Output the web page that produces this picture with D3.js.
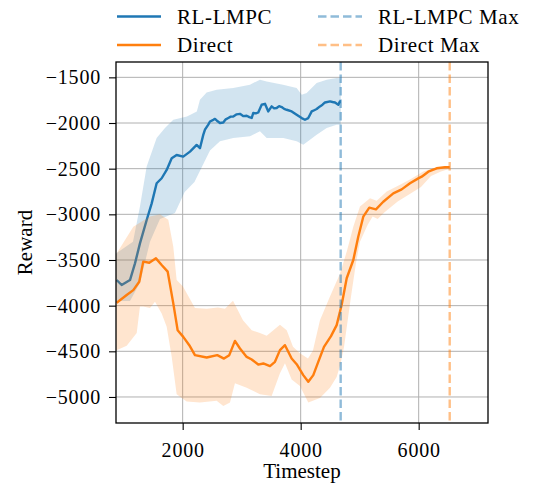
<!DOCTYPE html>
<html>
<head>
<meta charset="utf-8">
<style>
  body { margin: 0; background: #fff; }
  text { font-family: "Liberation Serif", "DejaVu Serif", serif; fill: #000; }
  .grid line { stroke: #b0b0b0; stroke-width: 1; }
</style>
</head>
<body>
<script src="https://d3js.org/d3.v7.min.js"></script>
<script>

// RL-LMPC mean reward
var lmpcT = [881, 966, 1107, 1192, 1276, 1390, 1475, 1559, 1644, 1729, 1814, 1898, 2010, 2124, 2237, 2293, 2349, 2378, 2434, 2463, 2519, 2547, 2581, 2632, 2688, 2730, 2773, 2815, 2858, 2915, 2971, 3030, 3085, 3130, 3170, 3197, 3240, 3281, 3339, 3395, 3451, 3508, 3550, 3593, 3635, 3678, 3720, 3763, 3848, 3932, 4017, 4073, 4129, 4187, 4230, 4271, 4327, 4370, 4412, 4497, 4540, 4582, 4638, 4666, 4680];
var lmpcMean = [-3719, -3774, -3720, -3537, -3318, -3062, -2880, -2660, -2605, -2514, -2386, -2350, -2368, -2313, -2240, -2276, -2130, -2073, -2018, -1983, -1965, -1955, -1975, -2000, -1995, -1960, -1945, -1930, -1928, -1905, -1900, -1925, -1920, -1935, -1945, -1890, -1895, -1885, -1800, -1790, -1873, -1818, -1840, -1836, -1815, -1825, -1845, -1855, -1873, -1910, -1946, -1964, -1946, -1873, -1860, -1847, -1818, -1800, -1775, -1763, -1770, -1775, -1800, -1763, -1765];

// RL-LMPC band
var lmpcUpT = [870, 1158, 1276, 1390, 1559, 1700, 1841, 2073, 2240, 2293, 2406, 2576, 2858, 3141, 3310, 3424, 3700, 3932, 4017, 4102, 4271, 4441, 4610, 4680];
var lmpcUp = [-3430, -3300, -2915, -2477, -2165, -2055, -1965, -1928, -1873, -1745, -1665, -1635, -1617, -1580, -1525, -1545, -1580, -1617, -1690, -1672, -1562, -1525, -1507, -1510];
var lmpcLoT = [870, 1107, 1276, 1446, 1615, 1869, 2034, 2200, 2373, 2463, 2632, 2858, 3141, 3310, 3424, 3706, 3932, 4044, 4158, 4271, 4441, 4610, 4680];
var lmpcLo = [-3950, -3950, -3750, -3300, -3050, -2985, -2755, -2645, -2420, -2300, -2200, -2165, -2145, -2090, -2165, -2165, -2200, -2237, -2183, -2128, -2055, -2018, -2018];

// Direct mean reward
var directT = [881, 1051, 1163, 1264, 1332, 1434, 1547, 1644, 1746, 1841, 1915, 2010, 2112, 2208, 2407, 2586, 2700, 2790, 2886, 2971, 3085, 3170, 3281, 3366, 3480, 3564, 3649, 3734, 3847, 3932, 4044, 4129, 4214, 4298, 4395, 4514, 4610, 4695, 4780, 4892, 4976, 5061, 5163, 5276, 5400, 5570, 5712, 5853, 5994, 6051, 6163, 6305, 6446, 6526];
var directMean = [-3968, -3884, -3830, -3738, -3518, -3530, -3482, -3555, -3628, -3975, -4270, -4342, -4433, -4542, -4568, -4542, -4580, -4542, -4386, -4469, -4561, -4590, -4645, -4633, -4662, -4615, -4487, -4433, -4579, -4641, -4761, -4834, -4761, -4615, -4451, -4334, -4213, -3990, -3700, -3500, -3245, -3026, -2927, -2945, -2862, -2770, -2727, -2660, -2606, -2588, -2533, -2496, -2485, -2485];

// Direct band
var directUpT = [870, 1163, 1446, 1615, 1756, 1841, 1898, 2005, 2208, 2407, 2598, 2717, 2853, 3022, 3170, 3310, 3424, 3649, 3763, 3870, 3988, 4124, 4208, 4327, 4497, 4666, 4785, 4892, 5005, 5175, 5288, 5458, 5627, 5853, 6078, 6305, 6526];
var directUp = [-3440, -3135, -3025, -3000, -3060, -3355, -3720, -3790, -4025, -4035, -4020, -4035, -3945, -4160, -4270, -4300, -4330, -4210, -4270, -4450, -4520, -4580, -4490, -4160, -3900, -3650, -3400, -3135, -2915, -2825, -2850, -2750, -2695, -2620, -2530, -2485, -2475];
var directLoT = [870, 1051, 1221, 1276, 1332, 1446, 1531, 1644, 1729, 1814, 1898, 2068, 2293, 2576, 2688, 2802, 2886, 3085, 3310, 3508, 3649, 3734, 3847, 3988, 4129, 4327, 4497, 4610, 4678, 4735, 4853, 4938, 5005, 5136, 5220, 5305, 5417, 5644, 5870, 6039, 6209, 6378, 6526];
var directLo = [-4490, -4440, -4300, -4010, -4010, -4025, -3957, -4085, -4230, -4560, -4970, -5050, -5060, -5040, -5100, -5060, -4850, -4900, -4970, -4990, -4740, -4630, -4810, -4880, -5060, -5010, -4900, -4780, -4630, -4450, -3900, -3530, -3300, -3115, -3025, -3050, -2980, -2860, -2770, -2700, -2580, -2530, -2500];

var maxLines = [{name: "RL-LMPC Max", t: 4678}, {name: "Direct Max", t: 6526}];

var xTicks = [2000, 4000, 6000];
var yTicks = [-5000, -4500, -4000, -3500, -3000, -2500, -2000, -1500];

var blue = "#1f77b4", orange = "#ff7f0e";
var serif = "'Liberation Serif', 'DejaVu Serif', serif";

var margin = {top: 62, right: 48, bottom: 61, left: 116},
    width = 536 - margin.left - margin.right,
    height = 484 - margin.top - margin.bottom;

var x = d3.scaleLinear().domain([870, 7175]).range([0, width]);
var y = d3.scaleLinear().domain([-5285, -1332]).range([height, 0]);

var fmt = function(d) { return String(d).replace("-", "\u2212"); };

var svg = d3.select("body").append("svg")
    .attr("width", 536)
    .attr("height", 484);

svg.append("defs").append("clipPath").attr("id", "clip")
  .append("rect").attr("width", width).attr("height", height);

var g = svg.append("g").attr("transform", "translate(" + margin.left + "," + margin.top + ")");

// grid
g.append("g").attr("class", "grid")
  .selectAll("line").data(xTicks).enter().append("line")
  .attr("x1", function(d) { return x(d); }).attr("x2", function(d) { return x(d); })
  .attr("y1", 0).attr("y2", height);
g.append("g").attr("class", "grid")
  .selectAll("line").data(yTicks).enter().append("line")
  .attr("y1", function(d) { return y(d); }).attr("y2", function(d) { return y(d); })
  .attr("x1", 0).attr("x2", width);

function zipXY(ts, vs) { return ts.map(function(t, i) { return [t, vs[i]]; }); }

// band polygon from upper and lower edges
function bandPath(upT, up, loT, lo) {
  var pts = zipXY(upT, up).concat(zipXY(loT, lo).reverse());
  return d3.line().x(function(d) { return x(d[0]); }).y(function(d) { return y(d[1]); })(pts) + "Z";
}

var line = d3.line()
  .x(function(d) { return x(d[0]); })
  .y(function(d) { return y(d[1]); });

var plot = g.append("g").attr("clip-path", "url(#clip)");

plot.append("path")
  .attr("d", line(zipXY(lmpcT, lmpcMean)))
  .attr("fill", "none").attr("stroke", blue).attr("stroke-width", 2.4)
  .attr("stroke-linejoin", "round");

plot.append("path")
  .attr("d", bandPath(lmpcUpT, lmpcUp, lmpcLoT, lmpcLo))
  .attr("fill", blue).attr("fill-opacity", 0.2);

plot.append("path")
  .attr("d", line(zipXY(directT, directMean)))
  .attr("fill", "none").attr("stroke", orange).attr("stroke-width", 2.4)
  .attr("stroke-linejoin", "round");

plot.append("path")
  .attr("d", bandPath(directUpT, directUp, directLoT, directLo))
  .attr("fill", orange).attr("fill-opacity", 0.2);

plot.selectAll(".maxline").data(maxLines).enter().append("line")
  .attr("x1", function(d) { return x(d.t); }).attr("x2", function(d) { return x(d.t); })
  .attr("y1", 0).attr("y2", height)
  .attr("stroke", function(d, i) { return i == 0 ? blue : orange; })
  .attr("stroke-opacity", 0.5)
  .attr("stroke-width", 2.4)
  .attr("stroke-dasharray", "8.5,4");

// axes
var xAxis = g.append("g").attr("transform", "translate(0," + height + ")")
  .call(d3.axisBottom(x).tickValues(xTicks).tickSize(7).tickPadding(13).tickFormat(fmt));
var yAxis = g.append("g")
  .call(d3.axisLeft(y).tickValues(yTicks).tickSize(7).tickPadding(8).tickFormat(fmt));

[xAxis, yAxis].forEach(function(a) {
  a.attr("font-family", serif).attr("font-size", 20);
  a.select(".domain").remove();
  a.selectAll("line").attr("stroke", "#000").attr("stroke-width", 1.1);
  a.selectAll("text").style("font-family", serif).style("letter-spacing", "0.8px");
});

g.append("rect").attr("width", width).attr("height", height)
  .attr("fill", "none").attr("stroke", "#000").attr("stroke-width", 1.3);

svg.append("text")
  .attr("x", margin.left + width / 2).attr("y", 478)
  .attr("text-anchor", "middle").attr("font-size", 21)
  .text("Timestep");

svg.append("text")
  .attr("transform", "translate(32," + (margin.top + height / 2) + ") rotate(-90)")
  .attr("text-anchor", "middle").attr("font-size", 21)
  .text("Reward");

// legend
var legendItems = [
  {name: "RL-LMPC", color: blue, dash: null, op: 1, col: 0, row: 0},
  {name: "Direct", color: orange, dash: null, op: 1, col: 0, row: 1},
  {name: "RL-LMPC Max", color: blue, dash: "8.5,4", op: 0.5, col: 1, row: 0},
  {name: "Direct Max", color: orange, dash: "8.5,4", op: 0.5, col: 1, row: 1}
];
var colX = [117, 318];
var leg = svg.selectAll(".leg").data(legendItems).enter().append("g")
  .attr("transform", function(d) { return "translate(" + colX[d.col] + "," + (16.5 + d.row * 28.5) + ")"; });
leg.append("line")
  .attr("x1", 0).attr("x2", 44)
  .attr("stroke", function(d) { return d.color; })
  .attr("stroke-opacity", function(d) { return d.op; })
  .attr("stroke-width", 2.4)
  .attr("stroke-dasharray", function(d) { return d.dash; });
leg.append("text")
  .attr("x", 60).attr("dy", "0.35em").attr("font-size", 21)
  .style("letter-spacing", "0.6px")
  .text(function(d) { return d.name; });

</script>
</body>
</html>
